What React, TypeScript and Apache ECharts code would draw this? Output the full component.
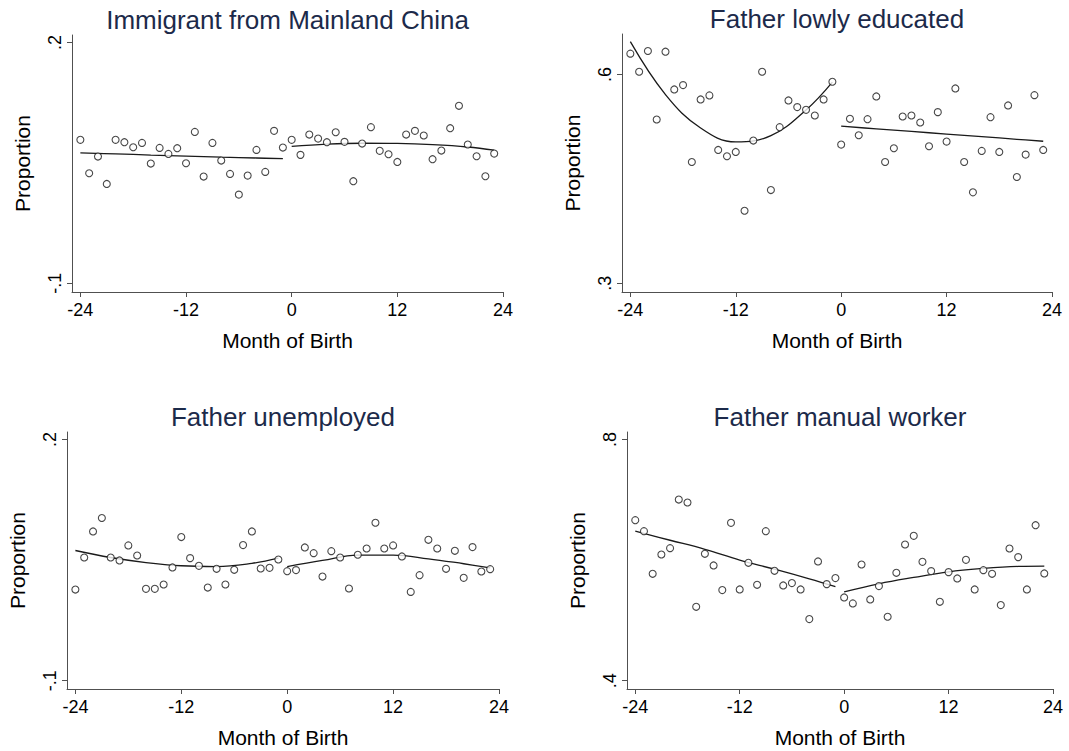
import React, { useEffect, useRef } from "react";
import * as echarts from "echarts";

// Month of birth relative to cut-off
const months = [
  -24, -23, -22, -21, -20, -19, -18, -17, -16, -15, -14, -13, -12, -11, -10, -9, -8, -7, -6, -5, -4, -3, -2, -1,
  0, 1, 2, 3, 4, 5, 6, 7, 8, 9, 10, 11, 12, 13, 14, 15, 16, 17, 18, 19, 20, 21, 22, 23,
];

const immigrantMainland = [
  0.0787, 0.0371, 0.0579, 0.0238, 0.0787, 0.0758, 0.0695, 0.0749, 0.0492, 0.0687, 0.0612, 0.0683,
  0.0496, 0.0886, 0.033, 0.0749, 0.0529, 0.0363, 0.0105, 0.0342, 0.0662, 0.0388, 0.0899, 0.0691,
  0.0787, 0.06, 0.0853, 0.0803, 0.0758, 0.0882, 0.0762, 0.0272, 0.0741, 0.0945, 0.065, 0.0608,
  0.0512, 0.0853, 0.0899, 0.0841, 0.0546, 0.0654, 0.0932, 0.1211, 0.0729, 0.0583, 0.0334, 0.0616,
];

const fatherLowlyEducated = [
  0.6298, 0.6038, 0.6336, 0.5352, 0.6326, 0.5784, 0.5846, 0.4742, 0.564, 0.5698, 0.4915, 0.4824,
  0.4886, 0.4042, 0.505, 0.6038, 0.4339, 0.5242, 0.5626, 0.553, 0.5491, 0.541, 0.564, 0.5894,
  0.4992, 0.5362, 0.5126, 0.5357, 0.5683, 0.4742, 0.4939, 0.5395, 0.541, 0.5309, 0.4968, 0.5458,
  0.5035, 0.5798, 0.4742, 0.4306, 0.4901, 0.5386, 0.4886, 0.5554, 0.4526, 0.4848, 0.5702, 0.4915,
];

const fatherUnemployed = [
  0.0134, 0.0533, 0.0857, 0.1024, 0.0533, 0.0496, 0.0683, 0.0558, 0.0143, 0.0143, 0.0197, 0.0409,
  0.0787, 0.0525, 0.0429, 0.0159, 0.0392, 0.0197, 0.038, 0.0687, 0.0857, 0.0396, 0.0404, 0.0508,
  0.0363, 0.0376, 0.0658, 0.0587, 0.0296, 0.0612, 0.0533, 0.0147, 0.0567, 0.0645, 0.0965, 0.0645,
  0.0683, 0.0546, 0.0105, 0.0313, 0.0753, 0.0645, 0.0392, 0.0616, 0.028, 0.0662, 0.0359, 0.0388,
];

const fatherManual = [
  0.6663, 0.6481, 0.5773, 0.6094, 0.6199, 0.7005, 0.6956, 0.5226, 0.6105, 0.5912, 0.5503, 0.6619,
  0.5514, 0.5956, 0.5591, 0.6481, 0.5823, 0.558, 0.5619, 0.5514, 0.5022, 0.5978, 0.5602, 0.5702,
  0.5381, 0.5282, 0.5928, 0.5348, 0.5569, 0.5061, 0.579, 0.626, 0.6403, 0.5972, 0.5818, 0.5309,
  0.5801, 0.5696, 0.6005, 0.5514, 0.5834, 0.5773, 0.5254, 0.6193, 0.605, 0.5514, 0.658, 0.5779,
];

// Fitted curves on each side of the cut-off
const fitLeftX = [-24, -20, -16, -12, -8, -4, -1];
const fitRightX = [0, 4, 8, 12, 16, 20, 23];

const immigrantFitLeft = [0.0625, 0.0612, 0.0598, 0.0585, 0.0572, 0.0561, 0.0552];
const immigrantFitRight = [0.0705, 0.0733, 0.0745, 0.0742, 0.0727, 0.0698, 0.0658];
const educatedFitLeft = [0.647, 0.571, 0.523, 0.503, 0.512, 0.549, 0.589];
const educatedFitRight = [0.5256, 0.5218, 0.5181, 0.5143, 0.5106, 0.5068, 0.504];
const unemployedFitLeft = [0.062, 0.0533, 0.047, 0.043, 0.042, 0.046, 0.0525];
const unemployedFitRight = [0.042, 0.0496, 0.0562, 0.0562, 0.0517, 0.0455, 0.0405];
const manualFitLeft = [0.648, 0.633, 0.618, 0.6, 0.585, 0.569, 0.556];
const manualFitRight = [0.5475, 0.5608, 0.5713, 0.5807, 0.5862, 0.5895, 0.59];

const titles = ["Immigrant from Mainland China", "Father lowly educated", "Father unemployed", "Father manual worker"];
const xTicks = [-24, -12, 0, 12, 24];
const yTicksList = [
  [-0.1, 0.2],
  [0.3, 0.6],
  [-0.1, 0.2],
  [0.4, 0.8],
];
const xAxisTitle = "Month of Birth";
const yAxisTitle = "Proportion";

const FONT = "'Liberation Sans', Arial, sans-serif";

export default function App() {
  const ref = useRef<HTMLDivElement>(null);

  useEffect(() => {
    if (!ref.current) return;
    const chart = echarts.init(ref.current, null, { renderer: "svg" });

    const panels = [
      { values: immigrantMainland, fitL: immigrantFitLeft, fitR: immigrantFitRight, yMin: -0.1108, yMax: 0.2093,
        grid: { left: 72, top: 35, width: 431, height: 257 } },
      { values: fatherLowlyEducated, fitL: educatedFitLeft, fitR: educatedFitRight, yMin: 0.2875, yMax: 0.658,
        grid: { left: 622, top: 34, width: 430, height: 258 } },
      { values: fatherUnemployed, fitL: unemployedFitLeft, fitR: unemployedFitRight, yMin: -0.1103, yMax: 0.2094,
        grid: { left: 67, top: 432, width: 432, height: 257 } },
      { values: fatherManual, fitL: manualFitLeft, fitR: manualFitRight, yMin: 0.3862, yMax: 0.8126,
        grid: { left: 627, top: 432, width: 426, height: 257 } },
    ];

    const fmt = (v: number) => {
      const s = String(Math.round(v * 1000) / 1000);
      return s.replace(/^(-?)0\./, "$1.");
    };

    const axisLineStyle = { color: "#505050", width: 1 };

    const option: any = {
      animation: false,
      backgroundColor: "#ffffff",
      textStyle: { fontFamily: FONT },
      title: panels.map((p, i) => ({
        text: titles[i],
        left: p.grid.left + p.grid.width / 2 - 5,
        top: p.grid.top - 33,
        textAlign: "center",
        textStyle: { fontFamily: FONT, fontSize: 26, fontWeight: "normal", color: "#1c2a4a" },
      })),
      grid: panels.map((p) => ({ ...p.grid, containLabel: false })),
      xAxis: panels.map((p, i) => ({
        type: "value",
        gridIndex: i,
        min: -24.95,
        max: 24,
        name: xAxisTitle,
        nameLocation: "middle",
        nameGap: 38,
        nameTextStyle: { fontFamily: FONT, fontSize: 21, color: "#000" },
        axisLine: { show: true, onZero: false, lineStyle: axisLineStyle },
        axisTick: { show: true, length: 5, customValues: xTicks, lineStyle: axisLineStyle },
        axisLabel: { show: true, customValues: xTicks, margin: 9, fontSize: 18, color: "#000", fontFamily: FONT },
        splitLine: { show: false },
      })),
      yAxis: panels.map((p, i) => ({
        type: "value",
        gridIndex: i,
        min: p.yMin,
        max: p.yMax,
        name: yAxisTitle,
        nameLocation: "middle",
        nameGap: 39,
        nameRotate: 90,
        nameTextStyle: { fontFamily: FONT, fontSize: 21, color: "#000" },
        axisLine: { show: true, onZero: false, lineStyle: axisLineStyle },
        axisTick: { show: true, length: 5, customValues: yTicksList[i], lineStyle: axisLineStyle },
        axisLabel: {
          show: true,
          customValues: yTicksList[i],
          rotate: 90,
          margin: 8,
          fontSize: 18,
          color: "#000",
          fontFamily: FONT,
          formatter: (v: number) => fmt(v),
        },
        splitLine: { show: false },
      })),
      series: panels.flatMap((p, i) => [
        {
          type: "scatter",
          xAxisIndex: i,
          yAxisIndex: i,
          symbol: "circle",
          symbolSize: 7,
          itemStyle: { color: "#ffffff", borderColor: "#1a1a1a", borderWidth: 1.1 },
          data: months.map((m, k) => [m, p.values[k]]),
          z: 3,
        },
        {
          type: "line",
          xAxisIndex: i,
          yAxisIndex: i,
          smooth: 0.4,
          showSymbol: false,
          symbol: "none",
          lineStyle: { color: "#1a1a1a", width: 1.3 },
          data: fitLeftX.map((m, k) => [m, p.fitL[k]]),
          z: 2,
        },
        {
          type: "line",
          xAxisIndex: i,
          yAxisIndex: i,
          smooth: 0.4,
          showSymbol: false,
          symbol: "none",
          lineStyle: { color: "#1a1a1a", width: 1.3 },
          data: fitRightX.map((m, k) => [m, p.fitR[k]]),
          z: 2,
        },
      ]),
    };

    chart.setOption(option);
    return () => chart.dispose();
  }, []);

  return (
    <div
      ref={ref}
      style={{ position: "absolute", left: 0, top: 0, width: 1069, height: 751, background: "#fff" }}
    />
  );
}
